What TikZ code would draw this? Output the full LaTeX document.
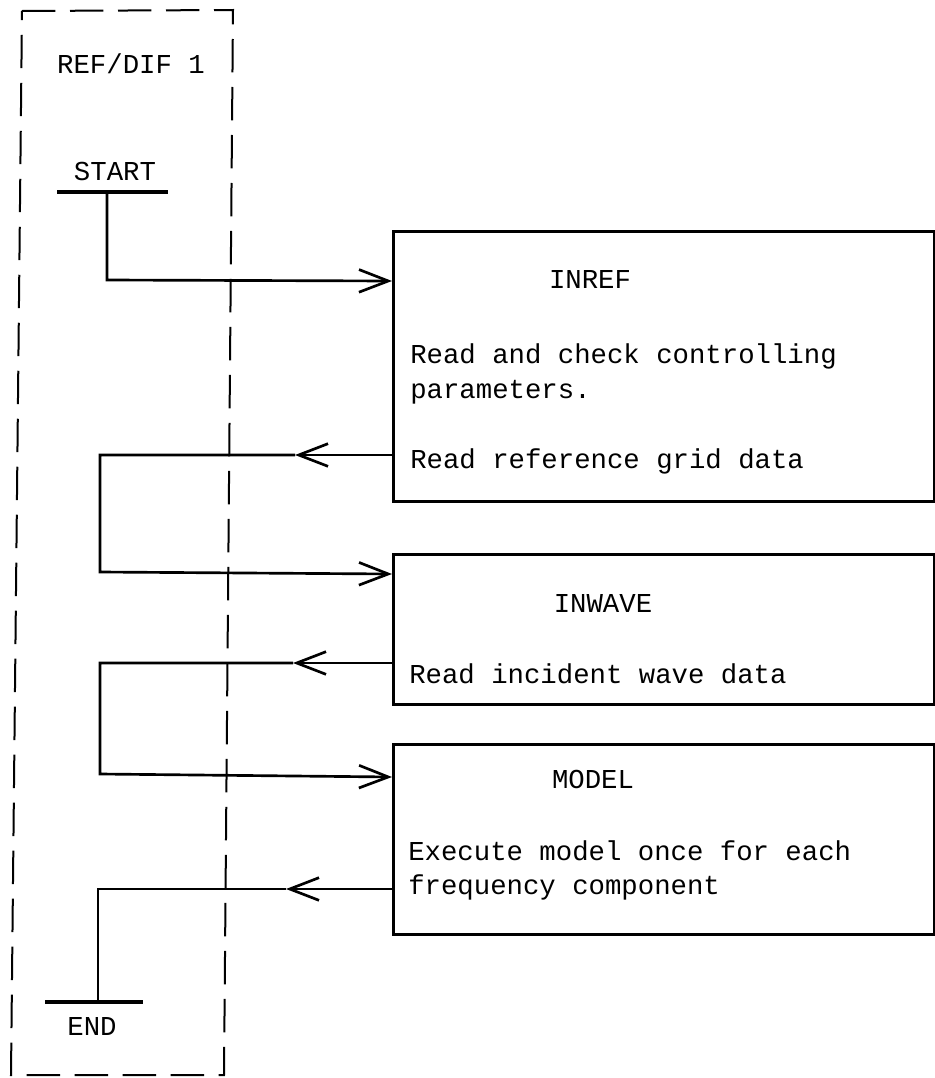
\documentclass[tikz,border=0pt]{standalone}
\usepackage{fontspec}
\setmonofont{Liberation Mono}
\usetikzlibrary{arrows.meta}
\tikzset{
  txt/.style={inner sep=0pt, font=\ttfamily\fontsize{20.5}{24}\selectfont},
  dashbox/.style={line width=1.5pt, dash pattern=on 25pt off 11pt},
  flow/.style={line width=2pt},
  tip/.style={-{Straight Barb[length=22pt,width=17pt]}},
  box/.style={draw, line width=2.4pt, inner sep=0pt, anchor=north west},
  bar/.style={line width=2.4pt}
}
\begin{document}
\begin{tikzpicture}[x=0.75pt,y=-0.75pt]
\useasboundingbox (0,0) rectangle (935,1078);
% dashed frame
\draw[dashbox] (22,11) -- (233,10) -- (224,1075) -- (11,1075) -- cycle;
\node[txt, anchor=base] (title) at (131,73) {REF/DIF 1};
% start / end
\node[txt, anchor=base] (start) at (115,180) {START};
\coordinate (sbl) at (57,192);
\coordinate (sbr) at (168,192);
\draw[bar] (sbl) -- (sbr);
\node[txt, anchor=base] (end) at (92,1035) {END};
\coordinate (ebl) at (45,1002);
\coordinate (ebr) at (143,1002);
\draw[bar] (ebl) -- (ebr);
% boxes
\node[box, minimum width=405.75pt, minimum height=202.5pt] (inref) at (392,230) {};
\node[box, minimum width=405.75pt, minimum height=112.5pt] (inwave) at (392,553) {};
\node[box, minimum width=405.75pt, minimum height=142.5pt] (model) at (392,743) {};
% box texts
\node[txt, anchor=base] (inreft) at (590,288) {INREF};
\node[txt, anchor=base west] (r1) at (410,363) {Read and check controlling};
\node[txt, anchor=base west] (r2) at (410,398) {parameters.};
\node[txt, anchor=base west] (r3) at (410,468) {Read reference grid data};
\node[txt, anchor=base] (inwavet) at (603,612) {INWAVE};
\node[txt, anchor=base west] (w1) at (409,683) {Read incident wave data};
\node[txt, anchor=base] (modelt) at (593,788) {MODEL};
\node[txt, anchor=base west] (m1) at (408,860) {Execute model once for each};
\node[txt, anchor=base west] (m2) at (408,894) {frequency component};
% connector coordinates
\coordinate (s0) at (107,192);
\coordinate (s1) at (107,280);
\coordinate (in1) at (392,281);
\coordinate (o1) at (392,455);
\coordinate (h1) at (295,455);
\coordinate (c1) at (100,455);
\coordinate (d1) at (100,572);
\coordinate (in2) at (392,574);
\coordinate (o2) at (392,663);
\coordinate (h2) at (293,663);
\coordinate (c2) at (100,663);
\coordinate (d2) at (100,774);
\coordinate (in3) at (392,777);
\coordinate (o3) at (392,889);
\coordinate (h3) at (286,889);
\coordinate (c3) at (98,889);
\coordinate (d3) at (98,1002);
% connectors
\draw[flow, tip] (s0) -- (s1) -- (in1);
\draw[flow, tip] (o1) -- (h1);
\draw[flow, tip] (h1) -- (c1) -- (d1) -- (in2);
\draw[flow, tip] (o2) -- (h2);
\draw[flow, tip] (h2) -- (c2) -- (d2) -- (in3);
\draw[flow, tip] (o3) -- (h3);
\draw[flow] (h3) -- (c3) -- (d3);
\end{tikzpicture}
\end{document}
